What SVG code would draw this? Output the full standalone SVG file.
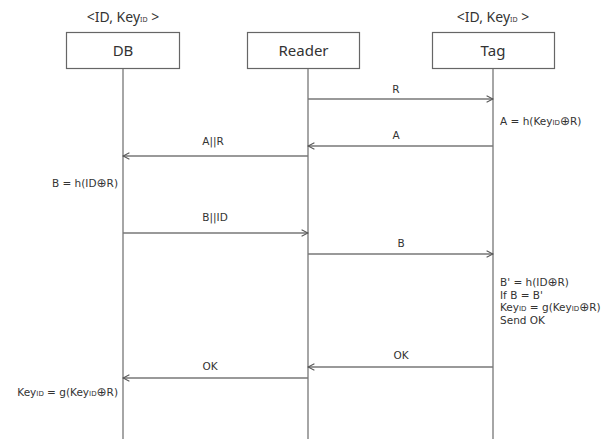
<svg xmlns="http://www.w3.org/2000/svg" width="613" height="441" viewBox="0 0 613 441">
<style>
.box{fill:#fff;stroke:#666;stroke-width:1.2}
.life{stroke:#888;stroke-width:1.5;fill:none}
.msg{stroke:#777;stroke-width:1.3;fill:none}
.t{font-family:"Noto Sans","DejaVu Sans",sans-serif;fill:#333}
.big{font-size:15px}
.hd{font-size:14px}
.sm{font-family:"DejaVu Sans",sans-serif;font-size:10.5px}
.sub{font-size:7px}
.op{font-size:12px}
</style>
<defs>
<marker id="ah" viewBox="0 0 10 10" refX="9" refY="5" markerWidth="8" markerHeight="8" markerUnits="userSpaceOnUse" orient="auto">
<path d="M1,1 L9,5 L1,9" fill="none" stroke="#555" stroke-width="1.3"/>
</marker>
</defs>
<g id="db">
<text class="t hd" x="123" y="22" text-anchor="middle">&lt;ID, Key<tspan class="sub">ID</tspan> &gt;</text>
<rect class="box" x="66.5" y="32.5" width="113" height="36"/>
<text class="t big" x="123" y="56" text-anchor="middle">DB</text>
<line class="life" x1="123" y1="69" x2="123" y2="439"/>
</g>
<g id="reader">
<rect class="box" x="247.5" y="32.5" width="112" height="36"/>
<text class="t big" x="303.5" y="56" text-anchor="middle">Reader</text>
<line class="life" x1="308" y1="69" x2="308" y2="439"/>
</g>
<g id="tag">
<text class="t hd" x="493" y="22" text-anchor="middle">&lt;ID, Key<tspan class="sub">ID</tspan> &gt;</text>
<rect class="box" x="432.5" y="32.5" width="122" height="36"/>
<text class="t big" x="493" y="56" text-anchor="middle">Tag</text>
<line class="life" x1="493" y1="69" x2="493" y2="439"/>
</g>
<g id="connectors">
<line class="msg" x1="308" y1="99" x2="493" y2="99" marker-end="url(#ah)"/>
<text class="t sm" x="396" y="93" text-anchor="middle">R</text>
<line class="msg" x1="493" y1="146" x2="308" y2="146" marker-end="url(#ah)"/>
<text class="t sm" x="396" y="139" text-anchor="middle">A</text>
<line class="msg" x1="308" y1="156" x2="123" y2="156" marker-end="url(#ah)"/>
<text class="t sm" x="213" y="145" text-anchor="middle">A||R</text>
<line class="msg" x1="123" y1="233" x2="308" y2="233" marker-end="url(#ah)"/>
<text class="t sm" x="215" y="221" text-anchor="middle">B||ID</text>
<line class="msg" x1="308" y1="254" x2="493" y2="254" marker-end="url(#ah)"/>
<text class="t sm" x="401" y="247" text-anchor="middle">B</text>
<line class="msg" x1="493" y1="367" x2="308" y2="367" marker-end="url(#ah)"/>
<text class="t sm" x="401" y="359" text-anchor="middle">OK</text>
<line class="msg" x1="308" y1="378" x2="123" y2="378" marker-end="url(#ah)"/>
<text class="t sm" x="210" y="370" text-anchor="middle">OK</text>
</g>
<g id="notes">
<text class="t sm" x="500" y="125">A = h(Key<tspan class="sub">ID</tspan><tspan class="op">⊕</tspan>R)</text>
<text class="t sm" x="118" y="187" text-anchor="end">B = h(ID<tspan class="op">⊕</tspan>R)</text>
<text class="t sm" x="500" y="286">B' = h(ID<tspan class="op">⊕</tspan>R)</text>
<text class="t sm" x="500" y="298.5">If B = B'</text>
<text class="t sm" x="500" y="311">Key<tspan class="sub">ID</tspan> = g(Key<tspan class="sub">ID</tspan><tspan class="op">⊕</tspan>R)</text>
<text class="t sm" x="500" y="323.5">Send OK</text>
<text class="t sm" x="118" y="396" text-anchor="end">Key<tspan class="sub">ID</tspan> = g(Key<tspan class="sub">ID</tspan><tspan class="op">⊕</tspan>R)</text>
</g>
</svg>
